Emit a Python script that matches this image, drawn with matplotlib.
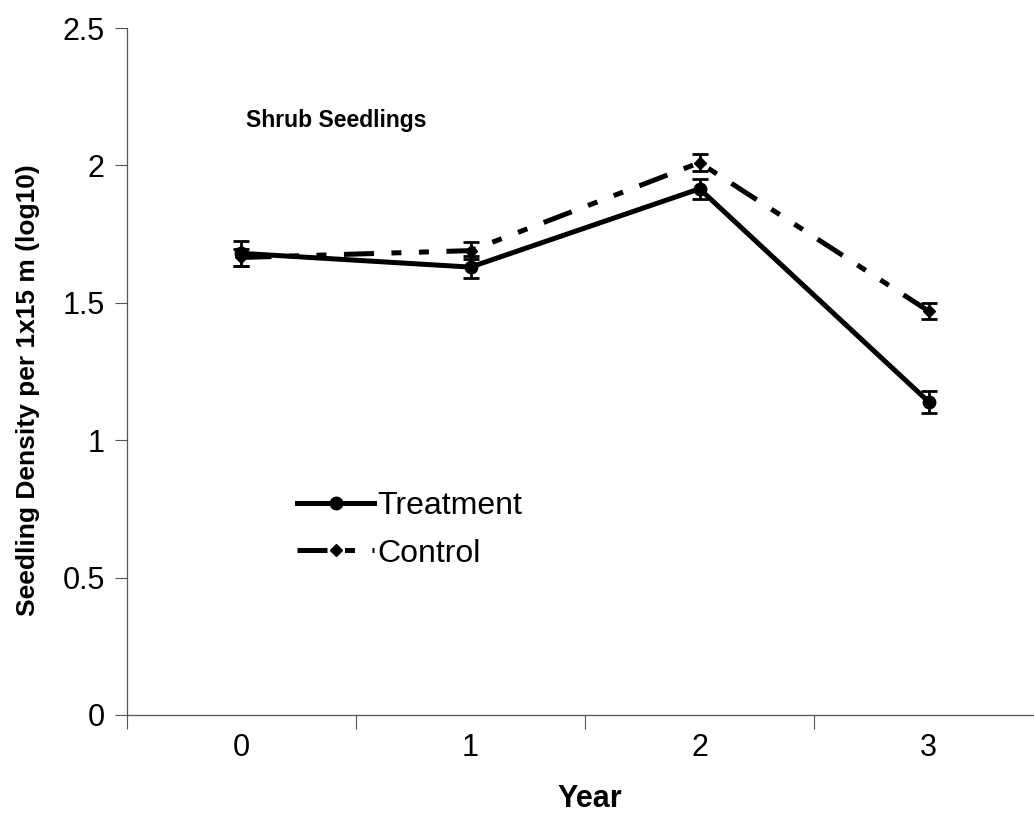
import matplotlib
matplotlib.use('Agg')
import matplotlib.pyplot as plt
from matplotlib.lines import Line2D
import numpy as np

plt.rcParams['font.family'] = ['Liberation Sans', 'DejaVu Sans']

# values
years = ['0', '1', '2', '3']
treatment = [1.68, 1.63, 1.915, 1.14]
treatment_err = [0.045, 0.04, 0.037, 0.04]
control = [1.665, 1.69, 2.01, 1.47]
control_err = [0.03, 0.03, 0.03, 0.03]

x = np.arange(len(years))
ctrl_dash = (6, 3.5, 2, 3.5, 2, 3.5)

fig = plt.figure(figsize=(10.34, 8.15), dpi=100)
ax = fig.add_axes([0.1228, 0.1227, 0.886, 0.8429])

ax.errorbar(x, control, yerr=control_err, color='black', lw=3.6,
            dashes=ctrl_dash, marker='D', ms=6,
            capsize=6, capthick=2, elinewidth=2, zorder=3)
ax.errorbar(x, treatment, yerr=treatment_err, color='black', lw=3.6,
            marker='o', ms=9, capsize=6, capthick=2, elinewidth=2, zorder=4)

ax.set_xlim(-0.5, 3.5)
ax.set_ylim(0, 2.5)
ax.set_yticks([0, 0.5, 1, 1.5, 2, 2.5])
ax.set_yticklabels(['0', '0.5', '1', '1.5', '2', '2.5'])

# ticks sit between the categories, labels in the middle
ax.set_xticks(np.arange(-0.5, 3.6, 1))
ax.set_xticklabels([])
ax.set_xticks(x, minor=True)
ax.set_xticklabels(years, minor=True)
ax.tick_params(axis='x', which='major', length=10, width=0.8, color='#555555')
ax.tick_params(axis='x', which='minor', length=0, pad=13, labelsize=22)
ax.tick_params(axis='y', length=9, width=0.8, color='#555555', labelsize=22, pad=7)

for s in ['top', 'right']:
    ax.spines[s].set_visible(False)
for s in ['left', 'bottom']:
    ax.spines[s].set_color('#555555')
    ax.spines[s].set_linewidth(0.9)

ax.set_ylabel('Seedling Density per 1x15 m (log10)', fontsize=19,
              fontweight='bold')
ax.yaxis.set_label_coords(-0.095, 0.473)
ax.set_xlabel('Year', fontsize=22, fontweight='bold')
ax.xaxis.set_label_coords(0.505, -0.1)

ax.text(0.02, 2.165, 'Shrub Seedlings', fontsize=16.5, fontweight='bold',
        ha='left', va='center')

handles = [Line2D([], [], color='black', lw=3.6, marker='o', ms=9),
           Line2D([], [], color='black', lw=3.6, dashes=ctrl_dash,
                  marker='D', ms=6)]
ax.legend(handles, ['Treatment', 'Control'], loc='upper left',
          bbox_to_anchor=(0.186, 0.326), frameon=False, fontsize=23,
          handlelength=2.4, handletextpad=0.1, labelspacing=0.55,
          borderpad=0, borderaxespad=0)

fig.savefig('out.png', dpi=100)
